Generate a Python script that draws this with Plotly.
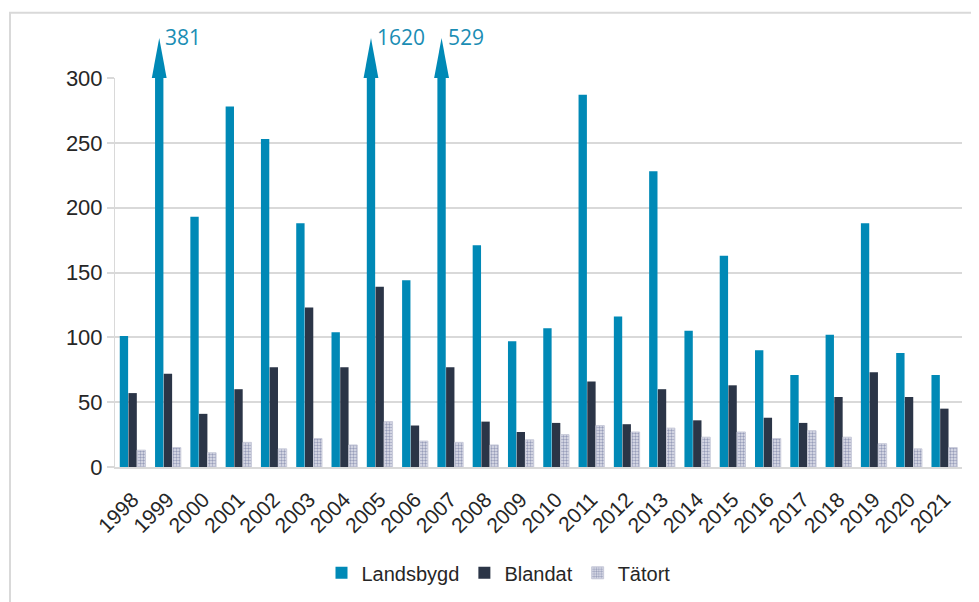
"""
Stapeldiagram: Landsbygd / Blandat / Tätort per år, 1998-2021.
"""

import plotly.graph_objects as go

# Data
ar = list(range(1998, 2022))
landsbygd = [101, 381, 193, 278, 253, 188, 104, 1620, 144, 529, 171, 97,
             107, 287, 116, 228, 105, 163, 90, 71, 102, 188, 88, 71]
blandat = [57, 72, 41, 60, 77, 123, 77, 139, 32, 77, 35, 27,
           34, 66, 33, 60, 36, 63, 38, 34, 54, 73, 54, 45]
tatort = [13, 15, 11, 19, 14, 22, 17, 35, 20, 19, 17, 21,
          25, 32, 27, 30, 23, 27, 22, 28, 23, 18, 14, 15]

Y_MAX = 300
Y_TICKS = [0, 50, 100, 150, 200, 250, 300]

# Färger
BLA = "#0089B6"
MORK = "#2B3547"
GRID = "#D9D9D9"
TEXT = "#262626"
FONT = "Liberation Sans"

# Layout (sidan har 8 px marginal i webbläsaren)
W, H = 979, 602
M = dict(l=107, r=25, t=70, b=143)
PLOT_W = W - M["l"] - M["r"]
PLOT_H = H - M["t"] - M["b"]

BARGAP = 0.26
GRUPP = 1 - BARGAP   # bredd för en grupp i x-enheter
PIL_HOJD = 40 / PLOT_H   # pilspetsens höjd ovanför axeltaket (paper)
PIL_BREDD = 0.21     # halva pilspetsens bredd (x-enheter)

fig = go.Figure()
fig.add_trace(go.Bar(
    name="Landsbygd", x=ar, y=landsbygd,
    marker=dict(color=BLA, line=dict(width=0)),
))
fig.add_trace(go.Bar(
    name="Blandat", x=ar, y=blandat,
    marker=dict(color=MORK, line=dict(width=0)),
))
fig.add_trace(go.Bar(
    name="Tätort", x=ar, y=tatort,
    marker=dict(
        color="white",
        line=dict(color="#C9CBDA", width=1),
        pattern=dict(shape=".", fgcolor="#4E5785", bgcolor="#E4E5EE",
                     size=3, solidity=0.5),
    ),
))

# Pilar för värden som går över axeltaket
offset = -GRUPP / 3
for a, v in zip(ar, landsbygd):
    if v <= Y_MAX:
        continue
    xc = a + offset
    fig.add_shape(
        type="path",
        path=f"M {xc - PIL_BREDD} 1 L {xc + PIL_BREDD} 1 "
             f"L {xc} {1 + PIL_HOJD} Z",
        xref="x", yref="paper", fillcolor=BLA, line=dict(width=0),
    )
    fig.add_annotation(
        x=xc, y=1 + PIL_HOJD, xref="x", yref="paper",
        text=str(v), showarrow=False,
        xanchor="left", yanchor="middle", xshift=4, yshift=1,
        font=dict(family="Open Sans", size=21, color="#1A8DB4"),
    )

# Ram runt diagrammet
fig.add_shape(
    type="rect", xref="paper", yref="paper",
    x0=(2 - M["l"]) / PLOT_W, x1=1.2,
    y0=-0.5, y1=1 + (M["t"] - 4.7) / PLOT_H,
    line=dict(color=GRID, width=2), layer="below",
)

fig.update_layout(
    width=W, height=H,
    margin=M,
    paper_bgcolor="white", plot_bgcolor="white",
    barmode="group", bargap=BARGAP, bargroupgap=0.04,
    font=dict(family=FONT, size=21, color=TEXT),
    showlegend=True,
    legend=dict(
        orientation="h", x=0.5 - 40 / PLOT_W, xanchor="center",
        y=-0.272, yanchor="middle",
        font=dict(size=20, color=TEXT),
        itemwidth=30, traceorder="normal",
    ),
    xaxis=dict(
        range=[ar[0] - 0.5, ar[-1] + 0.5],
        tickmode="array", tickvals=ar, ticktext=[str(a) for a in ar],
        tickangle=-45, showgrid=False, zeroline=False,
        showline=True, linecolor=GRID, linewidth=2,
        ticks="outside", ticklen=10, tickcolor="rgba(0,0,0,0)",
    ),
    yaxis=dict(
        range=[0, Y_MAX], tickvals=Y_TICKS,
        showgrid=True, gridcolor=GRID, gridwidth=2,
        zeroline=False,
        showline=True, linecolor=GRID, linewidth=1,
        ticks="outside", ticklen=7, tickcolor=GRID, tickwidth=2,
        tickfont=dict(size=22),
    ),
)

fig.write_html("out.html")
